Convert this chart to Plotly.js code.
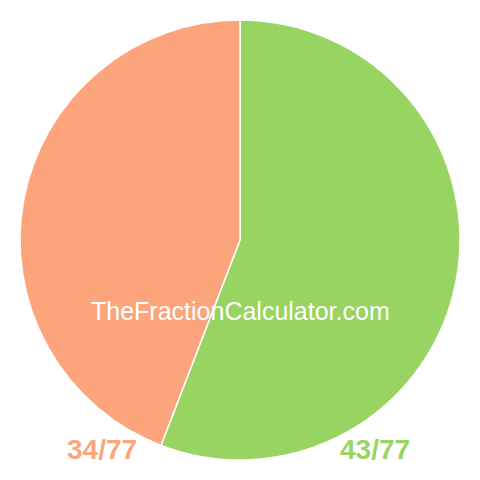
<!DOCTYPE html>
<html>
<head>
<meta charset="utf-8">
<script src="https://cdn.plot.ly/plotly-3.0.1.min.js"></script>
<style>
  html, body { margin: 0; padding: 0; background: #fff; }
  #chart { width: 480px; height: 480px; }
</style>
</head>
<body>
<div id="chart"></div>
<script>
let labels = ['43/77', '34/77'];
let values = [43, 34];
let colors = ['#98d462', '#fca57c'];

let data = [{
    type: 'pie',
    labels: labels,
    values: values,
    sort: false,
    direction: 'clockwise',
    rotation: 0,
    textinfo: 'none',
    hoverinfo: 'none',
    marker: {
        colors: colors,
        line: { color: '#ffffff', width: 1.5 }
    },
    domain: { x: [20 / 480, 460 / 480], y: [20 / 480, 460 / 480] }
}];

let layout = {
    width: 480,
    height: 480,
    margin: { l: 0, r: 0, t: 0, b: 0 },
    showlegend: false,
    paper_bgcolor: '#ffffff',
    font: { family: 'Liberation Sans, Arial, sans-serif' },
    annotations: [
        {
            text: 'TheFractionCalculator.com',
            x: 0.5, y: 1 - 311 / 480,
            xref: 'paper', yref: 'paper',
            xanchor: 'center', yanchor: 'middle',
            showarrow: false,
            font: { size: 25, color: '#ffffff' }
        },
        {
            text: '<b>' + labels[1] + '</b>',
            x: 102 / 480, y: 1 - 449 / 480,
            xref: 'paper', yref: 'paper',
            xanchor: 'center', yanchor: 'middle',
            showarrow: false,
            font: { size: 28, color: colors[1] }
        },
        {
            text: '<b>' + labels[0] + '</b>',
            x: 375 / 480, y: 1 - 449 / 480,
            xref: 'paper', yref: 'paper',
            xanchor: 'center', yanchor: 'middle',
            showarrow: false,
            font: { size: 28, color: colors[0] }
        }
    ]
};

Plotly.newPlot('chart', data, layout, { staticPlot: true });
</script>
</body>
</html>
